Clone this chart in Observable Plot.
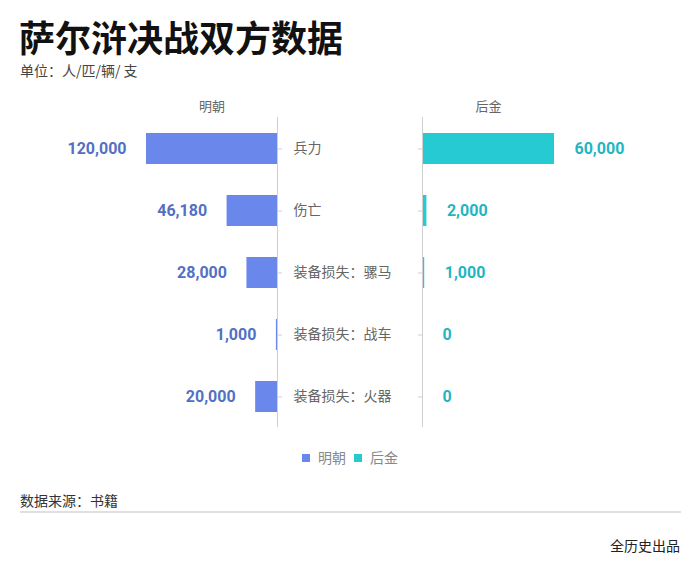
<!DOCTYPE html>
<html>
<head>
<meta charset="utf-8">
<script src="https://cdn.jsdelivr.net/npm/d3@7"></script>
<script src="https://cdn.jsdelivr.net/npm/@observablehq/plot@0.6"></script>
<style>
  html, body { margin: 0; padding: 0; background: #fff; }
  #wrap { position: relative; width: 700px; height: 576px; background: #fff; font-family: "Noto Sans CJK SC", "Noto Sans", sans-serif; overflow: hidden; }
  #title { position: absolute; left: 19px; top: 11px; font-size: 36px; font-weight: 700; color: #111; line-height: 50px; white-space: nowrap; }
  #subtitle { position: absolute; left: 20px; top: 60px; font-size: 14px; color: #444; line-height: 20px; white-space: nowrap; }
  #legend { position: absolute; left: 0; width: 700px; top: 447px; text-align: center; font-size: 14px; color: #888; line-height: 20px; }
  #legend span.sw { display: inline-block; width: 8px; height: 8px; margin-right: 8px; vertical-align: 1px; }
  #legend span.item { margin: 0 4px; }
  #source { position: absolute; left: 20px; top: 490px; font-size: 14px; color: #333; line-height: 20px; }
  #rule { position: absolute; left: 20px; top: 511px; width: 661px; height: 2px; background: #e0e0e0; }
  #credit { position: absolute; right: 20px; top: 535px; font-size: 14px; color: #222; line-height: 20px; }
  .panel { position: absolute; left: 0; top: 90px; background: transparent; }
</style>
</head>
<body>
<div id="wrap">
  <div id="title">萨尔浒决战双方数据</div>
  <div id="subtitle">单位：人/匹/辆/ 支</div>
  <div id="legend"></div>
  <div id="source">数据来源：书籍</div>
  <div id="rule"></div>
  <div id="credit">全历史出品</div>
</div>
<script>
const categories = ["兵力", "伤亡", "装备损失：骡马", "装备损失：战车", "装备损失：火器"];
const mingValues = [120000, 46180, 28000, 1000, 20000];
const houjinValues = [60000, 2000, 1000, 0, 0];
const seriesNames = ["明朝", "后金"];
const seriesColors = ["#6a88ec", "#26cad3"];
const labelColors = ["#5270c4", "#1fb5c2"];

const data = categories.map((c, i) => ({cat: c, ming: mingValues[i], houjin: houjinValues[i]}));
const fmt = d3.format(",");
const W = 700, H = 350;
const common = {width: W, height: H, marginTop: 27, marginBottom: 13};
const yScale = {domain: categories, paddingInner: 0.5, paddingOuter: 0.25, axis: null};
const numFont = "Roboto, 'DejaVu Sans Condensed', sans-serif";
const cjkFont = "'Noto Sans CJK SC', sans-serif";

const left = Plot.plot({
  ...common,
  marginLeft: 146, marginRight: 423,
  style: {background: "transparent", overflow: "visible"},
  x: {domain: [0, d3.max(mingValues)], reverse: true, axis: null},
  y: yScale,
  marks: [
    Plot.barX(data, {x: "ming", y: "cat", fill: seriesColors[0]}),
    Plot.ruleX([0], {stroke: "#cfcfcf"}),
    Plot.axisY({anchor: "right", tickSize: 4, tickFormat: () => "", stroke: "#cfcfcf", label: null}),
    Plot.text(data, {x: 0, y: "cat", text: "cat", dx: 16, textAnchor: "start", fill: "#666", fontSize: 14, fontFamily: cjkFont}),
    Plot.text(data, {x: "ming", y: "cat", text: d => fmt(d.ming), dx: -20, textAnchor: "end", fill: labelColors[0], fontSize: 16, fontWeight: "bold", fontFamily: numFont, letterSpacing: "-0.5px"}),
    Plot.text([seriesNames[0]], {frameAnchor: "top", dy: -16, text: d => d, fill: "#666", fontSize: 13, fontFamily: cjkFont})
  ]
});

const right = Plot.plot({
  ...common,
  marginLeft: 422, marginRight: 146,
  style: {background: "transparent", overflow: "visible"},
  x: {domain: [0, d3.max(houjinValues)], axis: null},
  y: yScale,
  marks: [
    Plot.barX(data, {x: "houjin", y: "cat", fill: seriesColors[1]}),
    Plot.ruleX([0], {stroke: "#cfcfcf"}),
    Plot.axisY({anchor: "left", tickSize: 4, tickFormat: () => "", stroke: "#cfcfcf", label: null}),
    Plot.text(data, {x: "houjin", y: "cat", text: d => fmt(d.houjin), dx: 20, textAnchor: "start", fill: labelColors[1], fontSize: 16, fontWeight: "bold", fontFamily: numFont, letterSpacing: "-0.5px"}),
    Plot.text([seriesNames[1]], {frameAnchor: "top", dy: -16, text: d => d, fill: "#666", fontSize: 13, fontFamily: cjkFont})
  ]
});

const wrap = document.getElementById("wrap");
left.classList.add("panel");
right.classList.add("panel");
wrap.appendChild(left);
wrap.appendChild(right);

const legend = document.getElementById("legend");
legend.innerHTML = seriesNames.map((n, i) =>
  `<span class="item"><span class="sw" style="background:${seriesColors[i]}"></span>${n}</span>`).join("");
</script>
</body>
</html>
